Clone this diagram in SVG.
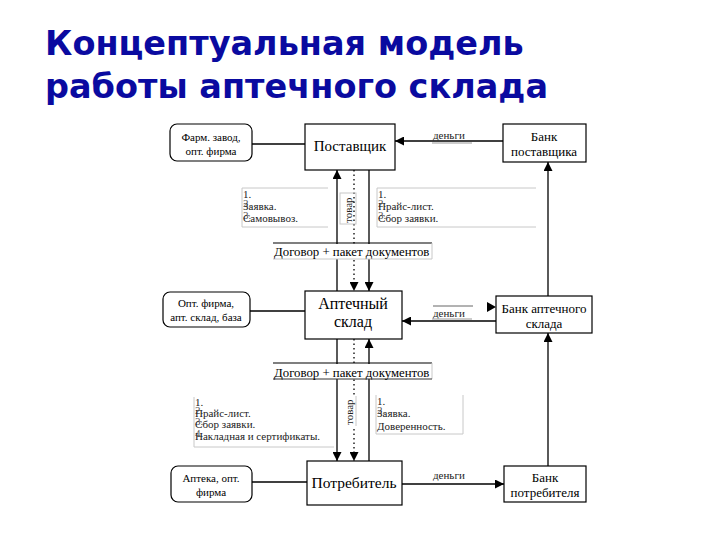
<svg xmlns="http://www.w3.org/2000/svg" width="720" height="540" viewBox="0 0 720 540">
<defs>
<marker id="ah" viewBox="0 0 10 10" refX="10" refY="5" markerWidth="9" markerHeight="9" markerUnits="userSpaceOnUse" orient="auto">
<path d="M0,0 L10,5 L0,10 z" fill="#000"/>
</marker>
</defs>
<style>
.box{fill:#fff;stroke:#000;stroke-width:1.2}
.rbox{fill:#fff;stroke:#000;stroke-width:1.2}
.t{font-family:"Liberation Serif","Times New Roman",serif;fill:#000;text-anchor:middle}
.lb{font-family:"Liberation Serif","Times New Roman",serif;fill:#222;font-size:11px}
.num{fill:#555}
.dg{font-family:"Liberation Serif","Times New Roman",serif;fill:#000;font-size:12.8px}
.c{stroke:#000;stroke-width:1.3;fill:none}
.d{stroke:#000;stroke-width:1.3;fill:none;stroke-dasharray:1.5 3}
.g{stroke:#c8c8c8;stroke-width:1;fill:none}
.title{font-family:"DejaVu Sans",Verdana,sans-serif;font-weight:bold;font-size:33.5px;fill:#0a0aa0}
</style>
<rect width="720" height="540" fill="#fff"/>
<g id="title">
<text class="title" x="45" y="55">Концептуальная модель</text>
<text class="title" x="45" y="98">работы аптечного склада</text>
</g>
<g id="connectors">
<line class="c" x1="252" y1="144" x2="305" y2="144"/>
<line class="c" x1="250" y1="311" x2="305" y2="311"/>
<line class="c" x1="252" y1="482" x2="307" y2="482"/>
<line class="c" x1="503" y1="141" x2="395" y2="141" marker-end="url(#ah)"/>
<line class="c" x1="496" y1="321" x2="402" y2="321" marker-end="url(#ah)"/>
<line class="c" x1="402" y1="484" x2="504" y2="484" marker-end="url(#ah)"/>
<line class="c" x1="548" y1="296" x2="548" y2="162" marker-end="url(#ah)"/>
<line class="c" x1="548" y1="466" x2="548" y2="333" marker-end="url(#ah)"/>
<line class="c" x1="337" y1="291" x2="337" y2="170" marker-end="url(#ah)"/>
<line class="d" x1="354" y1="170" x2="354" y2="291" marker-end="url(#ah)"/>
<line class="c" x1="369" y1="170" x2="369" y2="291" marker-end="url(#ah)"/>
<line class="c" x1="337" y1="339" x2="337" y2="461" marker-end="url(#ah)"/>
<line class="d" x1="354" y1="339" x2="354" y2="461" marker-end="url(#ah)"/>
<line class="c" x1="369" y1="461" x2="369" y2="339" marker-end="url(#ah)"/>
<path d="M487,302 L496,307 L487,312 z" fill="#000"/>
</g>
<g id="money-labels">
<text class="lb" x="433" y="139" fill="#000">деньги</text>
<line x1="432" y1="143" x2="472" y2="143" stroke="#999" stroke-width="1"/>
<line x1="433" y1="306" x2="473" y2="306" stroke="#666" stroke-width="1"/>
<text class="lb" x="433" y="317" fill="#000">деньги</text>
<line x1="432" y1="319" x2="472" y2="319" stroke="#999" stroke-width="1"/>
<text class="lb" x="433" y="479" fill="#000">деньги</text>
</g>
<g id="contract-top">
<rect x="273" y="244" width="159" height="15" fill="#fff"/>
<line x1="273" y1="243" x2="432" y2="243" stroke="#000" stroke-width="1.2"/>
<line class="g" x1="432" y1="243" x2="432" y2="259"/>
<line class="g" x1="273" y1="259" x2="432" y2="259"/>
<text class="dg" x="274" y="256">Договор + пакет документов</text>
</g>
<g id="contract-bottom">
<rect x="273" y="364" width="159" height="15" fill="#fff"/>
<line x1="273" y1="363" x2="432" y2="363" stroke="#000" stroke-width="1.2"/>
<line class="g" x1="432" y1="363" x2="432" y2="379"/>
<line x1="273" y1="379" x2="432" y2="379" stroke="#333" stroke-width="1"/>
<text class="dg" x="274" y="377">Договор + пакет документов</text>
</g>
<g id="label-ul">
<polyline class="g" points="328,188 242,188 242,227 328,227"/>
<text class="lb" x="243" y="198">1.</text>
<text class="lb num" x="243" y="207">2.</text>
<text class="lb" x="243" y="210">Заявка.</text>
<text class="lb num" x="243" y="219">3.</text>
<text class="lb" x="243" y="222">Самовывоз.</text>
</g>
<g id="label-ur">
<polyline class="g" points="536,188 377,188 377,227 536,227"/>
<text class="lb" x="378" y="198">1.</text>
<text class="lb num" x="378" y="207">2.</text>
<text class="lb" x="378" y="210">Прайс-лист.</text>
<text class="lb num" x="378" y="219">3.</text>
<text class="lb" x="378" y="222">Сбор заявки.</text>
</g>
<g id="label-ll">
<polyline class="g" points="194,397 194,447 334,447"/>
<text class="lb" x="195" y="406">1.</text>
<text class="lb num" x="195" y="414">2.</text>
<text class="lb" x="195" y="417">Прайс-лист.</text>
<text class="lb num" x="195" y="425">3.</text>
<text class="lb" x="195" y="428">Сбор заявки.</text>
<text class="lb num" x="195" y="437">4.</text>
<text class="lb" x="195" y="440">Накладная и сертификаты.</text>
</g>
<g id="label-lr">
<polyline class="g" points="376,395 376,434 463,434 463,395"/>
<text class="lb" x="377" y="405">1.</text>
<text class="lb num" x="377" y="414">2.</text>
<text class="lb" x="377" y="417">Заявка.</text>
<text class="lb" x="377" y="430">Доверенность.</text>
</g>
<g id="goods-top">
<rect class="g" x="340" y="193" width="16" height="31" fill="#fff"/>
<text class="lb" transform="translate(352,223) rotate(-90)">товар</text>
</g>
<g id="goods-bottom">
<rect x="344" y="396" width="12" height="30" fill="#fff"/>
<line class="g" x1="356" y1="396" x2="356" y2="426"/>
<text class="lb" transform="translate(353,425) rotate(-90)">товар</text>
</g>
<g id="supplier">
<rect class="box" x="305" y="124" width="90" height="46"/>
<text class="t" x="350" y="151" font-size="15px">Поставщик</text>
</g>
<g id="pharm-factory">
<rect class="rbox" x="170" y="124" width="82" height="37" rx="7"/>
<text class="t" x="211" y="141" font-size="11px">Фарм. завод,</text>
<text class="t" x="211" y="155" font-size="11px">опт. фирма</text>
</g>
<g id="bank-supplier">
<rect class="box" x="503" y="124" width="83" height="38"/>
<text class="t" x="544" y="141" font-size="13px">Банк</text>
<text class="t" x="544" y="156" font-size="13px">поставщика</text>
</g>
<g id="warehouse">
<rect class="box" x="305" y="291" width="97" height="48"/>
<text class="t" x="353" y="309" font-size="16px">Аптечный</text>
<text class="t" x="353" y="327" font-size="16px">склад</text>
</g>
<g id="wholesale">
<rect class="rbox" x="163" y="292" width="87" height="35" rx="7"/>
<text class="t" x="206" y="307" font-size="11px">Опт. фирма,</text>
<text class="t" x="206" y="321" font-size="11px">апт. склад, база</text>
</g>
<g id="bank-warehouse">
<rect class="box" x="496" y="296" width="96" height="37"/>
<text class="t" x="544" y="313" font-size="13px">Банк аптечного</text>
<text class="t" x="544" y="328" font-size="13px">склада</text>
</g>
<g id="consumer">
<rect class="box" x="307" y="461" width="95" height="44"/>
<text class="t" x="354" y="488" font-size="15.5px">Потребитель</text>
</g>
<g id="pharmacy">
<rect class="rbox" x="171" y="466" width="81" height="36" rx="7"/>
<text class="t" x="211" y="482" font-size="11px">Аптека, опт.</text>
<text class="t" x="211" y="496" font-size="11px">фирма</text>
</g>
<g id="bank-consumer">
<rect class="box" x="504" y="466" width="82" height="36"/>
<text class="t" x="545" y="482" font-size="13px">Банк</text>
<text class="t" x="545" y="497" font-size="13px">потребителя</text>
</g>
</svg>
